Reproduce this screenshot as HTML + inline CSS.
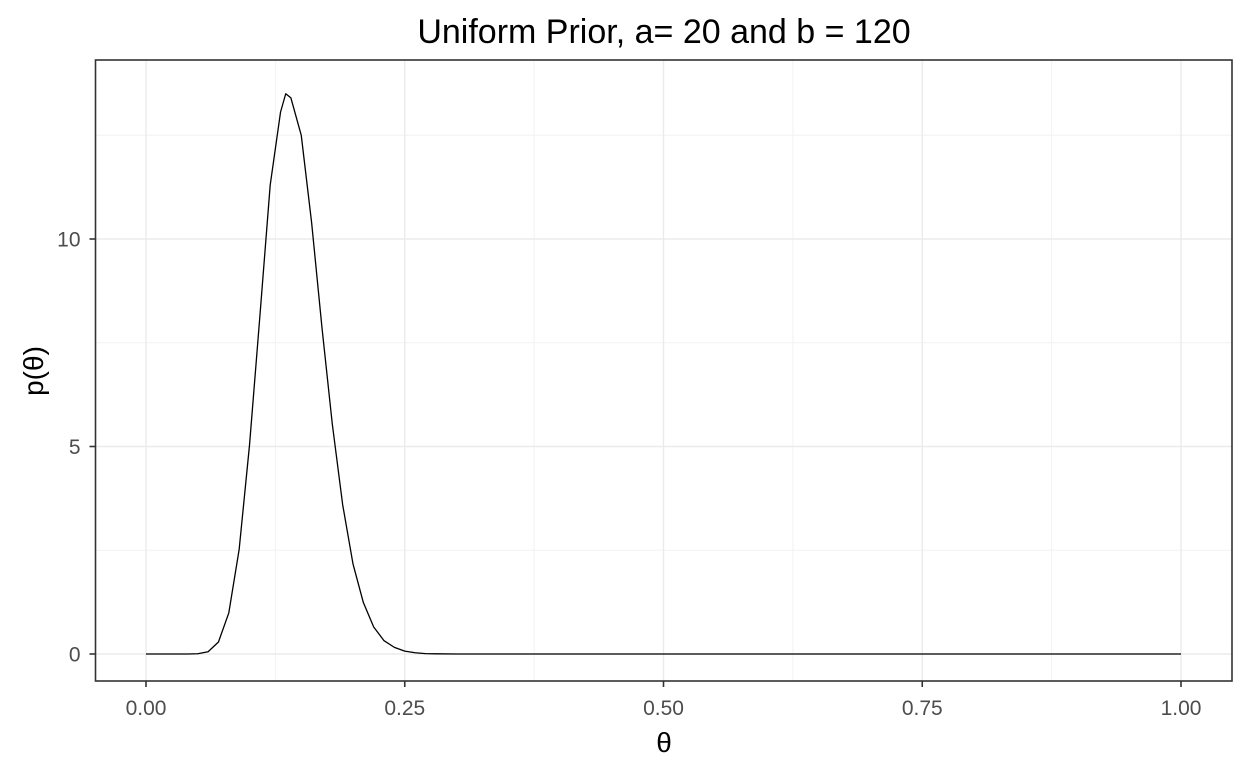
<!DOCTYPE html>
<html><head><meta charset="utf-8"><style>
body{margin:0;background:#fff;}
svg text{font-family:"Liberation Sans",sans-serif;}
</style></head><body>
<svg id="c" width="1248" height="768" xmlns="http://www.w3.org/2000/svg"></svg>
<script>
const xs=[0,0.01,0.02,0.03,0.04,0.05,0.06,0.07,0.08,0.09,0.10,0.11,0.12,0.13,0.135,0.14,0.15,0.16,0.17,0.18,0.19,0.20,0.21,0.22,0.23,0.24,0.25,0.26,0.27,0.28,0.30,0.5,0.75,1.0];
const ys=[0,0,0,0,0.0005,0.006,0.055,0.29,0.99,2.52,5.03,8.13,11.3,13.06,13.5,13.4,12.5,10.4,7.87,5.54,3.6,2.17,1.24,0.65,0.32,0.16,0.07,0.03,0.01,0.005,0,0,0,0];
const xTicks=[0,0.25,0.5,0.75,1];
const xTickLabels=["0.00","0.25","0.50","0.75","1.00"];
const yTicks=[0,5,10];
const yTickLabels=["0","5","10"];
const xMinor=[0.125,0.375,0.625,0.875];
const yMinor=[2.5,7.5,12.5];

const L=95.5,R=1232,T=60,B=681;
const X=v=>146+v*(1181-146);
const Y=v=>654-v*41.5;
const svg=document.getElementById('c');
const NS='http://www.w3.org/2000/svg';
function mk(tag,attrs,parent){const e=document.createElementNS(NS,tag);for(const k in attrs)e.setAttribute(k,attrs[k]);(parent||svg).appendChild(e);return e;}

const bg=mk('rect',{x:L,y:T,width:R-L,height:B-T,fill:'#fff'});


xMinor.forEach(v=>{const l=mk('line',{x1:X(v),x2:X(v),y1:T,y2:B,stroke:'#f2f2f2','stroke-width':1});

});
yMinor.forEach(v=>{const l=mk('line',{x1:L,x2:R,y1:Y(v),y2:Y(v),stroke:'#f2f2f2','stroke-width':1});

});
xTicks.forEach((v,i)=>{const l=mk('line',{x1:X(v),x2:X(v),y1:T,y2:B,stroke:'#ebebeb','stroke-width':1.4});


const t=mk('line',{x1:X(v),x2:X(v),y1:B,y2:B+6,stroke:'#333','stroke-width':1.6});


const tx=mk('text',{x:X(v),y:B+34,'text-anchor':'middle','font-size':21,fill:'#4d4d4d'});tx.textContent=xTickLabels[i];

});
yTicks.forEach((v,i)=>{const l=mk('line',{x1:L,x2:R,y1:Y(v),y2:Y(v),stroke:'#ebebeb','stroke-width':1.4});


const t=mk('line',{x1:L-6,x2:L,y1:Y(v),y2:Y(v),stroke:'#333','stroke-width':1.6});


const tx=mk('text',{x:L-15,y:Y(v)+7.5,'text-anchor':'end','font-size':21,fill:'#4d4d4d'});tx.textContent=yTickLabels[i];

});
const d=xs.map((x,i)=>(i?'L':'M')+X(x).toFixed(2)+','+Y(ys[i]).toFixed(2)).join(' ');
const p=mk('path',{d:d,fill:'none',stroke:'#000','stroke-width':1.3,'stroke-linejoin':'round'});


const bd=mk('rect',{x:L,y:T,width:R-L,height:B-T,fill:'none',stroke:'#333','stroke-width':1.6});


const ti=mk('text',{x:664,y:43,'text-anchor':'middle','font-size':34,fill:'#000'});ti.textContent='Uniform Prior, a= 20 and b = 120';


const xt=mk('text',{x:664,y:752,'text-anchor':'middle','font-size':28,fill:'#000','font-family':'Liberation Serif, serif'});xt.textContent='θ';


const yt=mk('text',{x:0,y:0,'text-anchor':'middle','font-size':28,fill:'#000',transform:'translate(43,371) rotate(-90)'});yt.textContent='p(θ)';


</script>
</body></html>
